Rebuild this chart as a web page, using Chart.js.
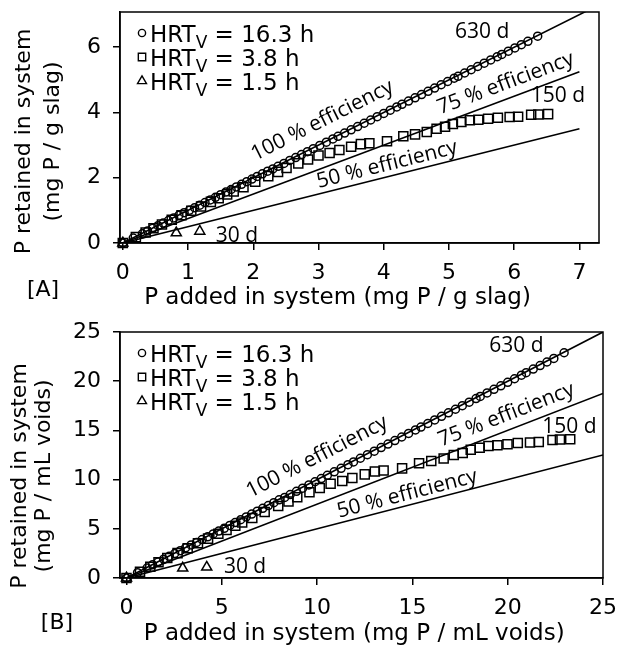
<!DOCTYPE html>
<html><head><meta charset="utf-8">
<script src="https://cdn.jsdelivr.net/npm/chart.js@4.4.1/dist/chart.umd.min.js"></script>
<style>
html,body{margin:0;padding:0;background:#fff;}
#wrap{position:relative;width:618px;height:656px;}
canvas{position:absolute;left:0;display:block;}
#cA{top:0;} #cB{top:320px;}
</style></head><body>
<div id="wrap"><canvas id="cA" width="618" height="320"></canvas><canvas id="cB" width="618" height="336"></canvas></div>
<script>
// ---------- data: panel A (mg P / g slag) ----------
const hrtHours = [16.3, 3.8, 1.5];
const seriesNames = ['HRT 16.3 h', 'HRT 3.8 h', 'HRT 1.5 h'];

const circlesA_x = [0, 0.16, 0.3, 0.38, 0.46, 0.54, 0.62, 0.7, 0.78, 0.86,
  0.94, 1.02, 1.1, 1.18, 1.26, 1.34, 1.42, 1.5, 1.58, 1.66,
  1.74, 1.82, 1.9, 1.98, 2.06, 2.14, 2.22, 2.3, 2.38, 2.47,
  2.56, 2.65, 2.74, 2.83, 2.92, 3.02, 3.12, 3.22, 3.3, 3.4,
  3.5, 3.6, 3.7, 3.8, 3.9, 4.0, 4.1, 4.2, 4.28, 4.38,
  4.48, 4.58, 4.68, 4.78, 4.88, 4.98, 5.08, 5.14, 5.24, 5.34,
  5.44, 5.54, 5.64, 5.74, 5.81, 5.91, 6.01, 6.11, 6.21, 6.36];
const circlesA_y = [0, 0.15, 0.28, 0.37, 0.45, 0.53, 0.61, 0.69, 0.77, 0.85,
  0.93, 1.0, 1.08, 1.16, 1.24, 1.32, 1.4, 1.48, 1.56, 1.64,
  1.72, 1.8, 1.88, 1.96, 2.04, 2.12, 2.2, 2.27, 2.35, 2.44,
  2.53, 2.62, 2.71, 2.8, 2.89, 2.99, 3.09, 3.19, 3.27, 3.37,
  3.47, 3.57, 3.67, 3.77, 3.87, 3.97, 4.07, 4.17, 4.25, 4.35,
  4.45, 4.55, 4.65, 4.75, 4.85, 4.95, 5.05, 5.11, 5.21, 5.31,
  5.41, 5.51, 5.61, 5.71, 5.78, 5.88, 5.98, 6.08, 6.18, 6.34];
const squaresA_x = [0, 0.2, 0.35, 0.47, 0.6, 0.75, 0.9, 1.05, 1.2, 1.35,
  1.47, 1.6, 1.7, 1.85, 2.03, 2.23, 2.38, 2.51, 2.69, 2.84,
  3.0, 3.17, 3.32, 3.5, 3.65, 3.78, 4.05, 4.3, 4.48, 4.66,
  4.81, 4.94, 5.06, 5.19, 5.32, 5.45, 5.6, 5.75, 5.93, 6.06,
  6.26, 6.37, 6.52];
const squaresA_y = [0, 0.18, 0.32, 0.45, 0.57, 0.71, 0.85, 0.99, 1.12, 1.26,
  1.37, 1.49, 1.58, 1.71, 1.88, 2.05, 2.18, 2.3, 2.44, 2.56,
  2.68, 2.76, 2.85, 2.95, 3.03, 3.06, 3.12, 3.27, 3.33, 3.4,
  3.5, 3.56, 3.65, 3.71, 3.76, 3.78, 3.81, 3.84, 3.86, 3.87,
  3.93, 3.94, 3.95];
const trianglesA_x = [0, 0.82, 1.18];
const trianglesA_y = [0, 0.31, 0.36];

// ---------- data: panel B (mg P / mL voids) ----------
const circlesB_x = [0, 0.58, 1.08, 1.37, 1.66, 1.95, 2.24, 2.53, 2.82, 3.10,
  3.39, 3.68, 3.97, 4.26, 4.55, 4.84, 5.13, 5.42, 5.70, 5.99,
  6.28, 6.57, 6.86, 7.15, 7.44, 7.73, 8.01, 8.30, 8.59, 8.92,
  9.24, 9.57, 9.89, 10.22, 10.54, 10.90, 11.26, 11.62, 11.91, 12.27,
  12.64, 13.0, 13.36, 13.72, 14.08, 14.44, 14.80, 15.16, 15.45, 15.81,
  16.17, 16.53, 16.89, 17.26, 17.62, 17.98, 18.34, 18.56, 18.92, 19.28,
  19.64, 20.0, 20.36, 20.72, 20.97, 21.34, 21.70, 22.06, 22.42, 22.96];
const circlesB_y = [0, 0.54, 1.01, 1.34, 1.62, 1.91, 2.20, 2.49, 2.78, 3.07,
  3.36, 3.61, 3.90, 4.19, 4.48, 4.77, 5.05, 5.34, 5.63, 5.92,
  6.21, 6.50, 6.79, 7.08, 7.36, 7.65, 7.94, 8.19, 8.48, 8.81,
  9.13, 9.46, 9.78, 10.11, 10.43, 10.79, 11.15, 11.52, 11.80, 12.17,
  12.53, 12.89, 13.25, 13.61, 13.97, 14.33, 14.69, 15.05, 15.34, 15.70,
  16.06, 16.43, 16.79, 17.15, 17.51, 17.87, 18.23, 18.45, 18.81, 19.17,
  19.53, 19.89, 20.25, 20.61, 20.87, 21.23, 21.59, 21.95, 22.31, 22.89];
const squaresB_x = [0, 0.71, 1.25, 1.68, 2.14, 2.68, 3.21, 3.75, 4.28, 4.82,
  5.25, 5.71, 6.07, 6.60, 7.25, 7.96, 8.50, 8.96, 9.60, 10.14,
  10.71, 11.32, 11.85, 12.50, 13.03, 13.49, 14.46, 15.35, 15.99, 16.64,
  17.17, 17.64, 18.06, 18.53, 18.99, 19.46, 19.99, 20.53, 21.17, 21.63,
  22.35, 22.74, 23.28];
const squaresB_y = [0, 0.64, 1.14, 1.61, 2.03, 2.53, 3.03, 3.53, 4.0, 4.50,
  4.89, 5.32, 5.64, 6.10, 6.71, 7.32, 7.78, 8.21, 8.71, 9.14,
  9.57, 9.85, 10.17, 10.53, 10.82, 10.92, 11.14, 11.67, 11.89, 12.14,
  12.50, 12.71, 13.03, 13.24, 13.42, 13.49, 13.60, 13.71, 13.78, 13.82,
  14.03, 14.07, 14.10];
const trianglesB_x = [0, 2.95, 4.21];
const trianglesB_y = [0, 1.0, 1.1];

// efficiency reference lines (fraction of P retained) and their x extent
const efficiencies = [1.0, 0.75, 0.5];
const efficiencyLabels = ['100 % efficiency', '75 % efficiency', '50 % efficiency'];
const lineEndA = [7.3, 7.0, 7.0];
const lineEndB = [25, 25, 25];

// tick labels
const xTicksA = [0, 1, 2, 3, 4, 5, 6, 7];
const yTicksA = [0, 2, 4, 6];
const xTicksB = [0, 5, 10, 15, 20, 25];
const yTicksB = [0, 5, 10, 15, 20, 25];

// ---------- helpers ----------
const pts = (xs, ys) => xs.map((x, i) => ({x: x, y: ys[i]}));
const NB = '\u00A0';
const FONT = '"DejaVu Sans"';
const ANNFONT = '"Open Sans"';

const boxPlugin = {
  id: 'box',
  beforeDatasetsDraw(chart) {
    const a = chart.chartArea, ctx = chart.ctx;
    ctx.save();
    ctx.strokeStyle = '#000'; ctx.lineWidth = 1.5;
    ctx.strokeRect(a.left, a.top, a.right - a.left, a.bottom - a.top);
    ctx.restore();
  }
};

const legendPlugin = {
  id: 'hrtLegend',
  afterDatasetsDraw(chart) {
    const ctx = chart.ctx, a = chart.chartArea;
    const styles = ['circle', 'rect', 'triangle'];
    const radii = [3.6, 5.2, 5.2];
    ctx.save();
    hrtHours.forEach((h, i) => {
      const cy = a.top + 21 + i * 24;
      const mx = a.left + 22;
      ctx.strokeStyle = '#000'; ctx.fillStyle = 'rgba(0,0,0,0)'; ctx.lineWidth = 1.4;
      Chart.helpers.drawPoint(ctx, {pointStyle: styles[i], radius: radii[i], rotation: 0, borderWidth: 1.4}, mx, cy);
      ctx.fillStyle = '#000';
      ctx.textAlign = 'left'; ctx.textBaseline = 'alphabetic';
      let x = a.left + 30; const base = cy + 8.5;
      ctx.font = '23px ' + FONT;
      ctx.fillText('HRT', x, base); x += ctx.measureText('HRT').width;
      ctx.font = '17px ' + FONT;
      ctx.fillText('V', x, base + 6); x += ctx.measureText('V').width;
      ctx.font = '23px ' + FONT;
      ctx.fillText(' = ' + h.toFixed(1) + ' h', x, base);
    });
    ctx.restore();
  }
};

const annotPlugin = {
  id: 'annot',
  afterDatasetsDraw(chart, args, opts) {
    const ctx = chart.ctx, xs = chart.scales.x, ys = chart.scales.y, a = chart.chartArea;
    ctx.save();
    ctx.fillStyle = '#000';
    ctx.textAlign = 'center'; ctx.textBaseline = 'middle';
    ctx.font = '21px ' + ANNFONT;
    opts.days.forEach(d => {
      ctx.fillText(d.text, xs.getPixelForValue(d.x), ys.getPixelForValue(d.y));
    });
    opts.eff.forEach((d, i) => {
      const e = efficiencies[i];
      const ang = Math.atan2(ys.getPixelForValue(e * 5) - ys.getPixelForValue(0),
                             xs.getPixelForValue(5) - xs.getPixelForValue(0));
      ctx.save();
      ctx.translate(xs.getPixelForValue(d.x), ys.getPixelForValue(d.y));
      ctx.rotate(ang);
      ctx.fillText(efficiencyLabels[i], 0, 0);
      ctx.restore();
    });
    ctx.font = '22px ' + FONT;
    ctx.fillText(opts.panel, a.left + opts.panelDx, a.bottom + opts.panelDy);
    ctx.restore();
  }
};

function makeChart(id, c) {
  const markerBase = {showLine: false, borderColor: '#000', backgroundColor: 'rgba(0,0,0,0)', borderWidth: 1.5, clip: false};
  const datasets = [
    Object.assign({label: seriesNames[0], data: pts(c.cx, c.cy), pointStyle: 'circle', pointRadius: 4}, markerBase),
    Object.assign({label: seriesNames[1], data: pts(c.sx, c.sy), pointStyle: 'rect', pointRadius: 6.4}, markerBase),
    Object.assign({label: seriesNames[2], data: pts(c.tx, c.ty), pointStyle: 'triangle', pointRadius: 5.8}, markerBase)
  ];
  efficiencies.forEach((e, i) => {
    datasets.push({label: efficiencyLabels[i], type: 'line', showLine: true,
      data: [{x: 0, y: 0}, {x: c.lineEnd[i], y: e * c.lineEnd[i]}],
      borderColor: '#000', borderWidth: 1.6, pointRadius: 0, fill: false, tension: 0});
  });
  const tickFont = {family: 'DejaVu Sans', size: 22};
  const gridOpt = {display: true, drawOnChartArea: false, drawTicks: true, tickLength: 7, color: '#000', lineWidth: 1.5};
  return new Chart(document.getElementById(id), {
    type: 'scatter',
    data: {datasets: datasets},
    options: {
      responsive: false, animation: false, devicePixelRatio: 1,
      layout: {padding: {left: 0, top: 12, right: c.padRight, bottom: 0}},
      plugins: {
        legend: {display: false}, tooltip: {enabled: false},
        annot: c.annot
      },
      scales: {
        x: {
          type: 'linear', min: c.xMin, max: c.xMax,
          afterBuildTicks: s => { s.ticks = c.xTicks.map(v => ({value: v})); },
          ticks: {font: tickFont, color: '#000', padding: 10, maxRotation: 0, autoSkip: false},
          grid: gridOpt, border: {display: true, color: '#000', width: 1.5},
          title: {display: true, text: c.xTitle, color: '#000', font: {family: 'DejaVu Sans', size: 23}, padding: {top: 0, bottom: 8}},
          afterFit: s => { s.height = c.xH; s.paddingLeft = 0; s.paddingRight = 0; }
        },
        y: {
          type: 'linear', min: c.yMin, max: c.yMax,
          afterBuildTicks: s => { s.ticks = c.yTicks.map(v => ({value: v})); },
          ticks: {font: tickFont, color: '#000', padding: 12, autoSkip: false},
          grid: gridOpt, border: {display: true, color: '#000', width: 1.5},
          title: {display: true, text: c.yTitle, color: '#000', font: {family: 'DejaVu Sans', size: 22, lineHeight: c.yLH}, padding: {top: c.yPad, bottom: 0}},
          afterFit: s => { s.width = 120; s.paddingTop = 0; s.paddingBottom = 0; }
        }
      }
    },
    plugins: [boxPlugin, legendPlugin, annotPlugin]
  });
}

makeChart('cA', {
  cx: circlesA_x, cy: circlesA_y, sx: squaresA_x, sy: squaresA_y, tx: trianglesA_x, ty: trianglesA_y,
  lineEnd: lineEndA, xMin: -0.043, xMax: 7.3, yMin: 0, yMax: 7.08,
  xTicks: xTicksA, yTicks: yTicksA, padRight: 19, xH: 77, yLH: 1.3, yPad: 10,
  xTitle: 'P added in system (mg P / g slag)' + NB.repeat(6),
  yTitle: ['P retained in system' + NB.repeat(4), '(mg P / g slag)' + NB.repeat(4)],
  annot: {
    days: [{text: '630 d', x: 5.51, y: 6.48}, {text: '150 d', x: 6.67, y: 4.49}, {text: '30 d', x: 1.75, y: 0.22}],
    eff: [{x: 3.06, y: 3.75}, {x: 5.87, y: 4.89}, {x: 4.05, y: 2.40}],
    panel: '[A]', panelDx: -77, panelDy: 47
  }
});

makeChart('cB', {
  cx: circlesB_x, cy: circlesB_y, sx: squaresB_x, sy: squaresB_y, tx: trianglesB_x, ty: trianglesB_y,
  lineEnd: lineEndB, xMin: -0.34, xMax: 25, yMin: 0, yMax: 25,
  xTicks: xTicksB, yTicks: yTicksB, padRight: 15, xH: 78, yLH: 1.1, yPad: 8,
  xTitle: 'P added in system (mg P / mL voids)' + NB.repeat(2),
  yTitle: ['P retained in system' + NB.repeat(6), '(mg P / mL voids)' + NB.repeat(6)],
  annot: {
    days: [{text: '630 d', x: 20.46, y: 23.58}, {text: '150 d', x: 23.24, y: 15.35}, {text: '30 d', x: 6.22, y: 1.12}],
    eff: [{x: 10.0, y: 12.3}, {x: 19.93, y: 16.57}, {x: 14.73, y: 8.54}],
    panel: '[B]', panelDx: -63, panelDy: 45
  }
});
</script>
</body></html>
